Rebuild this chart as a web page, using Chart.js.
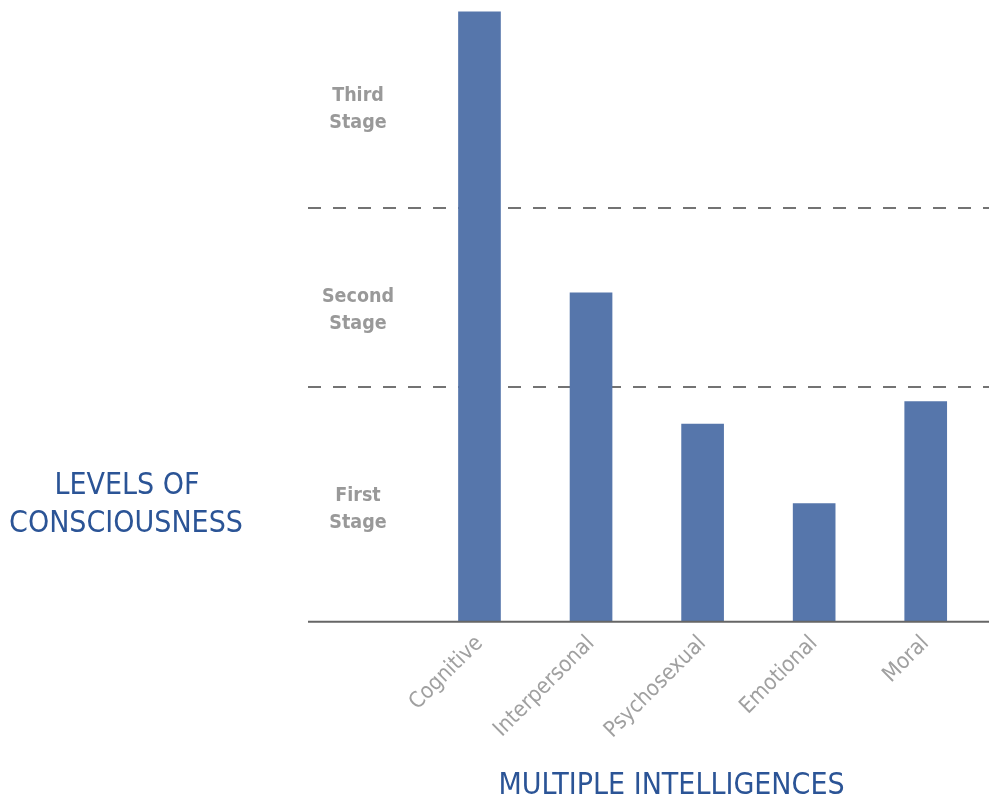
<!DOCTYPE html>
<html>
<head>
<meta charset="utf-8">
<script src="https://cdn.jsdelivr.net/npm/chart.js@4"></script>
<style>
html,body{margin:0;padding:0;background:#fff;}
#wrap{width:989px;height:804px;position:relative;}
</style>
</head>
<body>
<div id="wrap"><canvas id="c"></canvas></div>
<script>
const categories = ['Cognitive', 'Interpersonal', 'Psychosexual', 'Emotional', 'Moral'];
const values = [98.1, 52.9, 31.8, 19.0, 35.4];
const stageBoundaries = [37.8, 66.5];
const stageLabels = [['First', 'Stage'], ['Second', 'Stage'], ['Third', 'Stage']];
const stageLabelValues = [18.0, 50.1, 82.4];
const yTitle = ['LEVELS OF', 'CONSCIOUSNESS'];
const xTitle = 'MULTIPLE INTELLIGENCES';

const FONT = '"DejaVu Sans Condensed", "Liberation Sans Narrow", "Roboto", sans-serif';
const BLUE = '#2b5496';

const decor = {
  id: 'decor',
  beforeDatasetsDraw(chart) {
    const {ctx} = chart;
    const y = chart.scales.y;
    ctx.save();
    ctx.strokeStyle = '#737373';
    ctx.lineWidth = 2.2;
    ctx.setLineDash([13, 12]);
    stageBoundaries.forEach(v => {
      const py = Math.round(y.getPixelForValue(v));
      ctx.beginPath();
      ctx.moveTo(308, py);
      ctx.lineTo(chart.width, py);
      ctx.stroke();
    });
    ctx.restore();
  },
  afterDatasetsDraw(chart) {
    const {ctx, chartArea} = chart;
    const y = chart.scales.y;
    ctx.save();
    ctx.strokeStyle = '#666666';
    ctx.lineWidth = 2;
    ctx.beginPath();
    ctx.moveTo(308, chartArea.bottom);
    ctx.lineTo(chart.width, chartArea.bottom);
    ctx.stroke();
    ctx.fillStyle = '#999999';
    ctx.font = 'bold 19.5px ' + FONT;
    ctx.textAlign = 'center';
    ctx.textBaseline = 'middle';
    stageLabels.forEach((lines, i) => {
      const cy = y.getPixelForValue(stageLabelValues[i]);
      ctx.fillText(lines[0], 358, cy - 13.5);
      ctx.fillText(lines[1], 358, cy + 13.5);
    });
    ctx.fillStyle = BLUE;
    ctx.font = '30px ' + FONT;
    ctx.fillText(yTitle[0], 127, 486);
    ctx.fillText(yTitle[1], 126, 524);
    ctx.font = '30px ' + FONT;
    ctx.fillText(xTitle, 671.5, 786);
    ctx.restore();
  }
};

new Chart(document.getElementById('c'), {
  type: 'bar',
  data: {
    labels: categories,
    datasets: [{
      data: values,
      backgroundColor: '#5676ab',
      borderWidth: 0,
      barThickness: 42
    }]
  },
  options: {
    responsive: true,
    maintainAspectRatio: false,
    animation: false,
    layout: {padding: {left: 423.7, right: 7.5, top: 0, bottom: 0}},
    plugins: {legend: {display: false}, tooltip: {enabled: false}},
    scales: {
      x: {
        offset: true,
        grid: {display: false, drawTicks: false},
        border: {display: false},
        ticks: {
          color: '#a0a0a0',
          font: {family: FONT, size: 22},
          minRotation: 45,
          maxRotation: 45,
          padding: 9,
          autoSkip: false
        },
        afterFit(s) { s.height = 804 - 621.7; }
      },
      y: {
        display: false,
        min: 0,
        max: 100
      }
    }
  },
  plugins: [decor]
});
</script>
</body>
</html>
